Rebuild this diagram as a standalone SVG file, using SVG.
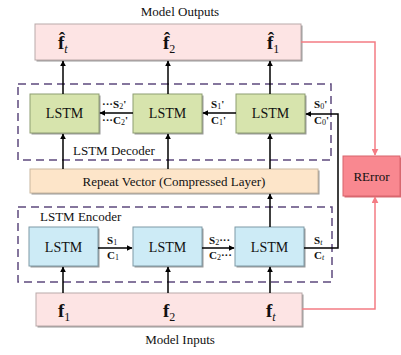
<svg xmlns="http://www.w3.org/2000/svg" width="401" height="355" viewBox="0 0 401 355">
<defs>
<marker id="ah" viewBox="0 0 10 10" refX="9" refY="5" markerWidth="6" markerHeight="6" orient="auto" markerUnits="userSpaceOnUse"><path d="M0,0 L10,5 L0,10 z" fill="#000"/></marker>
<marker id="ahr" viewBox="0 0 10 10" refX="9" refY="5" markerWidth="7" markerHeight="7" orient="auto" markerUnits="userSpaceOnUse"><path d="M0,0 L10,5 L0,10 z" fill="#f47c84"/></marker>
<style>
text{font-family:"Liberation Serif","Times New Roman",serif;fill:#111}
.lbl{font-size:13px}
.lstm{font-size:14px;text-anchor:middle}
.f{font-size:19px;font-weight:bold}
.sub{font-size:12px;font-weight:normal}
.sc{font-size:11px;font-weight:bold}
.scs{font-size:8px;font-weight:normal}
.sh{fill:#9a9a9a}
.dec{fill:#d7e4ad;stroke:#8e9e72;stroke-width:1}
.enc{fill:#cdebf6;stroke:#7f9aa6;stroke-width:1}
.io{fill:#fde4e4;stroke:#b9a9a9;stroke-width:1}
.dash{fill:none;stroke:#5e4a7e;stroke-width:1.5;stroke-dasharray:8,5}
.c{stroke:#000;stroke-width:1.5;fill:none}
.r{stroke:#f47c84;stroke-width:1.5;fill:none}
</style>
</defs>

<text class="lbl" x="180" y="16" text-anchor="middle">Model Outputs</text>

<g id="outputs">
<rect class="sh" x="36.5" y="25.5" width="266" height="36"/>
<rect class="io" x="35" y="24" width="266" height="36"/>
<text class="f" x="58" y="49">f&#x302;<tspan class="sub" font-style="italic" dy="4">t</tspan></text>
<text class="f" x="163" y="49">f&#x302;<tspan class="sub" dy="4">2</tspan></text>
<text class="f" x="267" y="49">f&#x302;<tspan class="sub" dy="4">1</tspan></text>
</g>

<rect class="dash" x="18" y="84" width="313" height="76"/>
<text class="lbl" x="73" y="155">LSTM Decoder</text>

<g id="dec1"><rect class="sh" x="31.5" y="95.5" width="69" height="39"/><rect class="dec" x="30" y="94" width="69" height="39"/><text class="lstm" x="64.5" y="118">LSTM</text></g>
<g id="dec2"><rect class="sh" x="134.5" y="95.5" width="69" height="39"/><rect class="dec" x="133" y="94" width="69" height="39"/><text class="lstm" x="167.5" y="118">LSTM</text></g>
<g id="dec3"><rect class="sh" x="237.5" y="95.5" width="69" height="39"/><rect class="dec" x="236" y="94" width="69" height="39"/><text class="lstm" x="270.5" y="118">LSTM</text></g>

<g id="repeat">
<rect class="sh" x="31.5" y="170.5" width="288" height="24"/>
<rect x="30" y="169" width="288" height="24" fill="#fde5c9" stroke="#c9b79f" stroke-width="1"/>
<text class="lbl" x="174" y="186" text-anchor="middle">Repeat Vector (Compressed Layer)</text>
</g>

<rect class="dash" x="18" y="207" width="314" height="75"/>
<text class="lbl" x="40" y="221">LSTM Encoder</text>

<g id="enc1"><rect class="sh" x="30.5" y="228.5" width="69" height="39"/><rect class="enc" x="29" y="227" width="69" height="39"/><text class="lstm" x="63.5" y="252">LSTM</text></g>
<g id="enc2"><rect class="sh" x="134.5" y="228.5" width="69" height="39"/><rect class="enc" x="133" y="227" width="69" height="39"/><text class="lstm" x="167.5" y="252">LSTM</text></g>
<g id="enc3"><rect class="sh" x="236.5" y="228.5" width="69" height="39"/><rect class="enc" x="235" y="227" width="69" height="39"/><text class="lstm" x="269.5" y="252">LSTM</text></g>

<g id="inputs">
<rect class="sh" x="37.5" y="294.5" width="266" height="33"/>
<rect class="io" x="36" y="293" width="266" height="33"/>
<text class="f" x="58" y="317">f<tspan class="sub" dy="4">1</tspan></text>
<text class="f" x="163" y="317">f<tspan class="sub" dy="4">2</tspan></text>
<text class="f" x="266" y="317">f<tspan class="sub" font-style="italic" dy="4">t</tspan></text>
</g>
<text class="lbl" x="180" y="344" text-anchor="middle">Model Inputs</text>

<g id="rerror">
<rect x="344.5" y="157.5" width="57" height="40" fill="#d96a72"/>
<rect x="343" y="156" width="57" height="40" fill="#f98890" stroke="#d8646c" stroke-width="1"/>
<text class="lbl" x="371.5" y="181" text-anchor="middle" font-size="14px">RError</text>
</g>

<g id="connectors">
<line class="c" x1="63" y1="94" x2="63" y2="61" marker-end="url(#ah)"/>
<line class="c" x1="168" y1="94" x2="168" y2="61" marker-end="url(#ah)"/>
<line class="c" x1="270" y1="94" x2="270" y2="61" marker-end="url(#ah)"/>
<line class="c" x1="63" y1="169" x2="63" y2="134" marker-end="url(#ah)"/>
<line class="c" x1="168" y1="169" x2="168" y2="134" marker-end="url(#ah)"/>
<line class="c" x1="270" y1="169" x2="270" y2="134" marker-end="url(#ah)"/>
<line class="c" x1="270" y1="227" x2="270" y2="194" marker-end="url(#ah)"/>
<line class="c" x1="63" y1="293" x2="63" y2="267" marker-end="url(#ah)"/>
<line class="c" x1="168" y1="293" x2="168" y2="267" marker-end="url(#ah)"/>
<line class="c" x1="270" y1="293" x2="270" y2="267" marker-end="url(#ah)"/>
<line class="c" x1="133" y1="113" x2="100" y2="113" marker-end="url(#ah)"/>
<line class="c" x1="236" y1="113" x2="203" y2="113" marker-end="url(#ah)"/>
<path class="c" d="M304,248 H338 V114 H306" marker-end="url(#ah)"/>
<line class="c" x1="98" y1="248" x2="132" y2="248" marker-end="url(#ah)"/>
<line class="c" x1="202" y1="248" x2="234" y2="248" marker-end="url(#ah)"/>
<path class="r" d="M301,42 H375 V155" marker-end="url(#ahr)"/>
<path class="r" d="M302,309 H375 V197" marker-end="url(#ahr)"/>

<text class="sc" x="102" y="108">···S<tspan class="scs" dy="1">2</tspan><tspan dy="-1">'</tspan></text>
<text class="sc" x="102" y="124">···C<tspan class="scs" dy="1">2</tspan><tspan dy="-1">'</tspan></text>
<text class="sc" x="211" y="108">S<tspan class="scs" dy="1">1</tspan><tspan dy="-1">'</tspan></text>
<text class="sc" x="211" y="124">C<tspan class="scs" dy="1">1</tspan><tspan dy="-1">'</tspan></text>
<text class="sc" x="314" y="108">S<tspan class="scs" dy="1">0</tspan><tspan dy="-1">'</tspan></text>
<text class="sc" x="314" y="124">C<tspan class="scs" dy="1">0</tspan><tspan dy="-1">'</tspan></text>
<text class="sc" x="107" y="244">S<tspan class="scs" dy="1">1</tspan></text>
<text class="sc" x="107" y="259">C<tspan class="scs" dy="1">1</tspan></text>
<text class="sc" x="209" y="244">S<tspan class="scs" dy="1">2</tspan><tspan dy="-1">···</tspan></text>
<text class="sc" x="209" y="259">C<tspan class="scs" dy="1">2</tspan><tspan dy="-1">···</tspan></text>
<text class="sc" x="314" y="244">S<tspan class="scs" font-style="italic" dy="1">t</tspan></text>
<text class="sc" x="314" y="259">C<tspan class="scs" font-style="italic" dy="1">t</tspan></text>
</g>
</svg>
